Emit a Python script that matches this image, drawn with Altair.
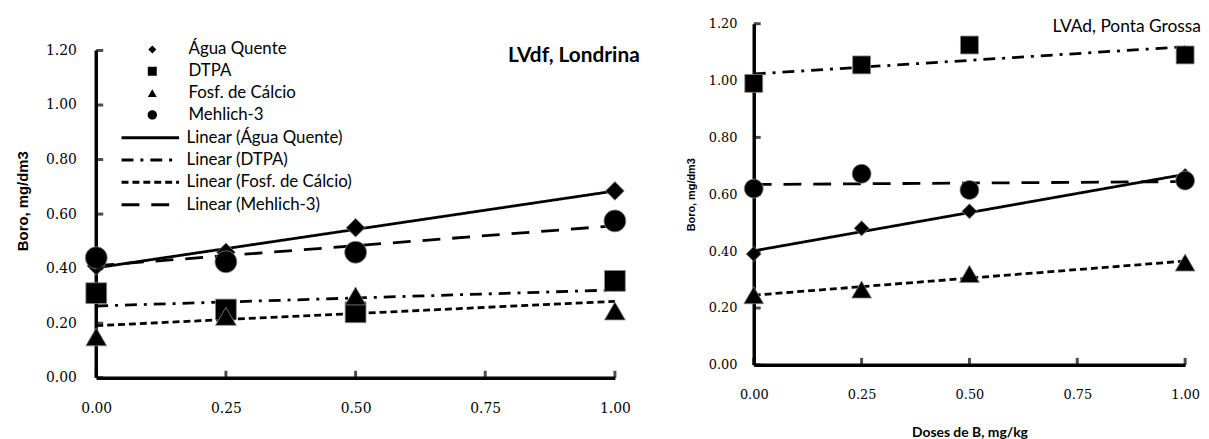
import altair as alt
import pandas as pd

# ---------------- data ----------------
doses = [0.0, 0.25, 0.5, 1.0]
series = ["Água Quente", "DTPA", "Fosf. de Cálcio", "Mehlich-3"]
trends = ["Linear (Água Quente)", "Linear (DTPA)", "Linear (Fosf. de Cálcio)", "Linear (Mehlich-3)"]

# LVdf, Londrina
lond_agua = [0.41, 0.46, 0.55, 0.685]
lond_dtpa = [0.31, 0.25, 0.24, 0.355]
lond_fosf = [0.15, 0.225, 0.30, 0.245]
lond_mehl = [0.44, 0.425, 0.46, 0.575]

# LVAd, Ponta Grossa
pg_agua = [0.39, 0.48, 0.54, 0.665]
pg_dtpa = [0.99, 1.055, 1.125, 1.09]
pg_fosf = [0.245, 0.265, 0.32, 0.36]
pg_mehl = [0.62, 0.672, 0.615, 0.648]

y_ticks = [0.0, 0.2, 0.4, 0.6, 0.8, 1.0, 1.2]
x_ticks = [0.0, 0.25, 0.5, 0.75, 1.0]

dashes = [[1, 0], [12, 7, 3, 7], [7, 4], [18, 12]]


def symbol_paths(d, s, t, c):
    """diamond, square, triangle-up, circle paths inside the [-1, 1] symbol box"""
    h = 0.866 * t
    return [
        f"M{-d},0L0,{-d}L{d},0L0,{d}Z",
        f"M{-s},{-s}L{s},{-s}L{s},{s}L{-s},{s}Z",
        f"M0,{-h}L{t},{h}L{-t},{h}Z",
        f"M{c},0A{c},{c} 0 1,1 {-c},0A{c},{c} 0 1,1 {c},0Z",
    ]


def frame(vals):
    rows = []
    for s, v in zip(series, vals):
        for d, b in zip(doses, v):
            rows.append({"dose": d, "boro": b, "series": s})
    return pd.DataFrame(rows)


def panel(df, ymax, width, height, sym_size, paths, lab_size, ytitle_size, xtitle,
          legends, title, y_domain_line):
    xs = alt.Scale(domain=[0, 1], nice=False, zero=False)
    ys = alt.Scale(domain=[0, ymax], nice=False)
    xaxis = alt.Axis(values=x_ticks, format=".2f", title=xtitle, grid=False,
                     ticks=False, tickSize=0, domain=True, domainColor="black",
                     domainWidth=3.5, labelFont="DejaVu Serif", labelFontSize=lab_size,
                     labelColor="black", labelPadding=24, labelFlush=False,
                     labelOverlap=False, titleFont="Lato", titleFontSize=14,
                     titleFontWeight="bold", titleColor="black", titlePadding=24)
    yaxis = alt.Axis(values=y_ticks, format=".2f", title="Boro, mg/dm3", grid=False,
                     ticks=False, tickSize=0, domain=y_domain_line, domainColor="black",
                     domainWidth=3.5, labelFont="DejaVu Serif", labelFontSize=lab_size,
                     labelColor="black", labelPadding=20 if lab_size > 13 else 17,
                     labelOverlap=False, labelFlush=False,
                     titleFont="Liberation Sans", titleFontSize=ytitle_size,
                     titleFontWeight="bold", titleColor="black",
                     titlePadding=15 if lab_size > 13 else 12)

    base = alt.Chart(df)
    if legends:
        shape_legend = alt.Legend(orient="none", legendX=48, legendY=18, title=None,
                                  labelFont="Lato", labelFontSize=17, labelColor="black",
                                  labelLimit=0, symbolSize=81, symbolFillColor="black",
                                  symbolStrokeColor="black", symbolStrokeWidth=0,
                                  labelOffset=28, rowPadding=5, clipHeight=16, padding=0)
        line_legend = alt.Legend(orient="none", legendX=24, legendY=107, title=None,
                                 labelFont="Lato", labelFontSize=17, labelColor="black",
                                 labelLimit=0, symbolType="stroke", symbolSize=3364,
                                 symbolStrokeWidth=3, symbolStrokeColor="black",
                                 labelOffset=6, rowPadding=5.5, clipHeight=16, padding=0)
    else:
        shape_legend = None
        line_legend = None

    lines = base.transform_regression(
        "dose", "boro", groupby=["series"]
    ).transform_calculate(
        trend="'Linear (' + datum.series + ')'"
    ).mark_line(color="black", strokeWidth=2.8).encode(
        x=alt.X("dose:Q", scale=xs, axis=xaxis),
        y=alt.Y("boro:Q", scale=ys, axis=yaxis),
        strokeDash=alt.StrokeDash("trend:N", scale=alt.Scale(domain=trends, range=dashes),
                                  legend=line_legend),
    )
    points = base.mark_point(filled=True, fill="black", stroke="#8a8a8a",
                             strokeWidth=0.8, opacity=1, size=sym_size).encode(
        x=alt.X("dose:Q", scale=xs, axis=xaxis),
        y=alt.Y("boro:Q", scale=ys, axis=yaxis),
        shape=alt.Shape("series:N", scale=alt.Scale(domain=series, range=paths),
                        legend=shape_legend),
    )
    ytk = alt.Chart(pd.DataFrame({"boro": y_ticks})).mark_tick(
        orient="horizontal", size=7, thickness=3, color="black", xOffset=3.5
    ).encode(x=alt.datum(0), y=alt.Y("boro:Q", scale=ys, axis=yaxis))
    xtk = alt.Chart(pd.DataFrame({"dose": x_ticks})).mark_tick(
        orient="vertical", size=7, thickness=3, color="black", yOffset=-3.5
    ).encode(x=alt.X("dose:Q", scale=xs, axis=xaxis), y=alt.datum(0))
    layers = [lines, points, ytk, xtk]
    if not y_domain_line:
        rule = alt.Chart(pd.DataFrame({"boro": [0.0], "top": [1.2]})).mark_rule(
            color="black", strokeWidth=3.5
        ).encode(x=alt.datum(0), y=alt.Y("boro:Q", scale=ys, axis=yaxis), y2="top:Q")
        layers.insert(0, rule)
    return alt.layer(*layers).properties(width=width, height=height, title=title)


left_title = alt.TitleParams("LVdf, Londrina", anchor="end", frame="group", orient="top",
                             offset=-43, dx=25, font="Lato", fontSize=21,
                             fontWeight="bold", color="black")
right_title = alt.TitleParams("LVAd, Ponta Grossa", anchor="end", frame="group", orient="top",
                              offset=-18, dx=16, font="Lato", fontSize=17.5,
                              fontWeight="normal", color="black")

left = panel(frame([lond_agua, lond_dtpa, lond_fosf, lond_mehl]),
             ymax=1.2 * 357 / 330, width=523, height=357,
             sym_size=441, paths=symbol_paths(0.9, 1.0, 1.0, 1.05),
             lab_size=14, ytitle_size=15, xtitle=None,
             legends=True, title=left_title, y_domain_line=False)
right = panel(frame([pg_agua, pg_dtpa, pg_fosf, pg_mehl]),
              ymax=1.2, width=435, height=344,
              sym_size=361, paths=symbol_paths(0.8, 0.95, 1.05, 1.0),
              lab_size=13, ytitle_size=11, xtitle="Doses de B, mg/kg",
              legends=False, title=right_title, y_domain_line=True)

chart = alt.hconcat(left, right, spacing=140, bounds="flush").resolve_scale(
    x="independent", y="independent", shape="independent", strokeDash="independent"
).resolve_legend(
    shape="independent", strokeDash="independent"
).configure_view(stroke=None).properties(
    padding={"left": 7, "top": 8, "right": 0, "bottom": 0}
)

chart.save("out.html", embed_options={"renderer": "svg", "actions": False})
